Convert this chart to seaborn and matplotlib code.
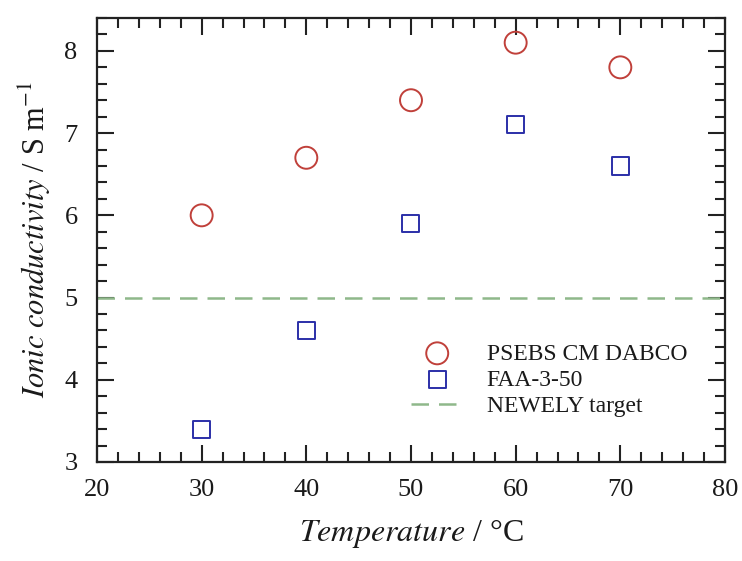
import pandas as pd
import seaborn as sns
import matplotlib.pyplot as plt
from matplotlib.ticker import MultipleLocator

# Data
temperature = [30, 40, 50, 60, 70]
psebs_cm_dabco = [6.0, 6.7, 7.4, 8.1, 7.8]
faa_3_50 = [3.4, 4.6, 5.9, 7.1, 6.6]
newely_target = 5.0

sns.set_theme(style='ticks')
plt.rcParams['font.family'] = ['Liberation Serif', 'DejaVu Serif']
plt.rcParams['mathtext.fontset'] = 'stix'
plt.rcParams['text.color'] = '#1a1a1a'
plt.rcParams['axes.labelcolor'] = '#1a1a1a'
plt.rcParams['xtick.labelcolor'] = '#1a1a1a'
plt.rcParams['ytick.labelcolor'] = '#1a1a1a'

fig = plt.figure(figsize=(7.42, 5.61), dpi=100)
ax = fig.add_axes([0.1307, 0.1765, 0.8464, 0.7914])

red = '#c0403a'
blue = '#2b2fa8'
green = '#8fb88a'

sns.scatterplot(x=temperature, y=psebs_cm_dabco, marker='o', s=250,
                facecolors='none', edgecolors=red, linewidth=1.4,
                label='PSEBS CM DABCO', ax=ax)
sns.scatterplot(x=temperature, y=faa_3_50, marker='s', s=150,
                facecolors='none', edgecolors=blue, linewidth=1.4,
                label='FAA-3-50', ax=ax)
ax.axhline(newely_target, color=green, lw=1.8, ls=(0, (7, 4)),
           label='NEWELY target')

ax.set_xlim(20, 80)
ax.set_ylim(3, 8.4)
ax.xaxis.set_major_locator(MultipleLocator(10))
ax.xaxis.set_minor_locator(MultipleLocator(2))
ax.yaxis.set_major_locator(MultipleLocator(1))
ax.yaxis.set_minor_locator(MultipleLocator(0.2))
ax.tick_params(which='both', direction='in', top=True, right=True,
               labelsize=19, width=1.5, color='#222222')
ax.tick_params(which='major', length=12)
ax.tick_params(which='minor', length=7)
ax.tick_params(axis='x', which='major', pad=12)
ax.tick_params(axis='y', which='major', pad=14)
for sp in ax.spines.values():
    sp.set_linewidth(1.6)
    sp.set_color('#222222')

ax.set_xlabel('$\\it{Temperature}$ / °C', fontsize=23, labelpad=12)
ax.set_ylabel('$\\it{Ionic\\ conductivity}$ / S m$^{-1}$', fontsize=22, labelpad=8)

ax.legend(loc='lower right', bbox_to_anchor=(0.955, 0.08), frameon=False,
          fontsize=17, handlelength=2.2, labelspacing=0.2, handletextpad=1.0,
          borderaxespad=0)

fig.savefig('out.png', dpi=100)
